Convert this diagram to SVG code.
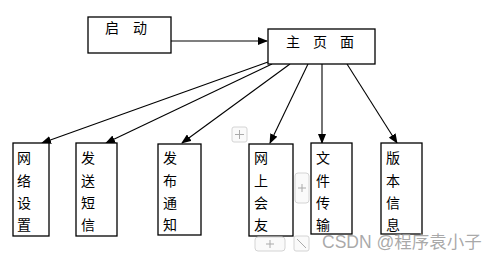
<svg xmlns="http://www.w3.org/2000/svg" width="499" height="256" viewBox="0 0 499 256">
<defs>
<marker id="ah" markerWidth="10" markerHeight="8" refX="9" refY="4" orient="auto" markerUnits="userSpaceOnUse">
<path d="M0,0 L10,4 L0,8 Z" fill="#000"/>
</marker>
<style>
.box{fill:#fff;stroke:#000;stroke-width:1.3}
.t{font-family:"Noto Sans CJK SC","Noto Sans CJK JP",sans-serif;font-size:14px;fill:#000}
.c{stroke:#000;stroke-width:1.1;fill:none;marker-end:url(#ah)}
.ui{fill:#fafafa;stroke:#d4d4d4;stroke-width:1}
.uit{stroke:#aaa;stroke-width:1;fill:none}
</style>
</defs>
<rect width="499" height="256" fill="#fff"/>
<g id="connectors">
<line class="c" x1="171" y1="41" x2="267" y2="41"/>
<line class="c" x1="268" y1="62" x2="42" y2="143"/>
<line class="c" x1="272" y1="64" x2="106" y2="143"/>
<line class="c" x1="290" y1="64" x2="182" y2="143"/>
<line class="c" x1="308" y1="64" x2="270" y2="143"/>
<line class="c" x1="322" y1="64" x2="322" y2="143"/>
<line class="c" x1="347" y1="64" x2="397" y2="143"/>
</g>
<g id="start">
<rect class="box" x="88" y="17" width="83" height="36"/>
<text class="t" x="112" y="33" text-anchor="middle">启</text>
<text class="t" x="140" y="33" text-anchor="middle">动</text>
</g>
<g id="home">
<rect class="box" x="268" y="29" width="107" height="35"/>
<text class="t" x="293" y="47" text-anchor="middle">主</text>
<text class="t" x="320" y="47" text-anchor="middle">页</text>
<text class="t" x="347" y="47" text-anchor="middle">面</text>
</g>
<g id="net">
<rect class="box" x="13" y="143" width="36" height="93"/>
<text class="t" x="17" y="163">网</text><text class="t" x="17" y="186">络</text><text class="t" x="17" y="208">设</text><text class="t" x="17" y="230">置</text>
</g>
<g id="sms">
<rect class="box" x="76" y="143" width="41" height="93"/>
<text class="t" x="81" y="163">发</text><text class="t" x="81" y="186">送</text><text class="t" x="81" y="208">短</text><text class="t" x="81" y="230">信</text>
</g>
<g id="notice">
<rect class="box" x="158" y="144" width="43" height="91"/>
<text class="t" x="163" y="163">发</text><text class="t" x="163" y="186">布</text><text class="t" x="163" y="208">通</text><text class="t" x="163" y="230">知</text>
</g>
<g id="friends">
<rect class="box" x="249" y="144" width="44" height="92"/>
<text class="t" x="254" y="163">网</text><text class="t" x="254" y="186">上</text><text class="t" x="254" y="208">会</text><text class="t" x="254" y="230">友</text>
</g>
<g id="files">
<rect class="box" x="311" y="143" width="41" height="91"/>
<text class="t" x="316" y="163">文</text><text class="t" x="316" y="186">件</text><text class="t" x="316" y="208">传</text><text class="t" x="316" y="230">输</text>
</g>
<g id="version">
<rect class="box" x="381" y="143" width="41" height="91"/>
<text class="t" x="386" y="163">版</text><text class="t" x="386" y="186">本</text><text class="t" x="386" y="208">信</text><text class="t" x="386" y="230">息</text>
</g>
<g id="ui-overlay">
<rect class="ui" x="232" y="127" width="15" height="15" rx="2"/>
<path class="uit" d="M239.5,130 V139 M235,134.5 H244"/>
<rect class="ui" x="295" y="173" width="14" height="30" rx="3"/>
<path class="uit" d="M302,184 V192 M298,188 H306"/>
<rect class="ui" x="255" y="237" width="30" height="14" rx="3"/>
<path class="uit" d="M270,240 V248 M266,244 H274"/>
<rect class="ui" x="294" y="236" width="15" height="15" rx="2"/>
<path class="uit" d="M297,239 L306,248"/>
</g>
<text x="322" y="248" font-family="'Liberation Sans','Noto Sans CJK SC',sans-serif" font-size="17.5" fill="#9a9a9a" fill-opacity="0.85">CSDN @程序袁小子</text>
</svg>
